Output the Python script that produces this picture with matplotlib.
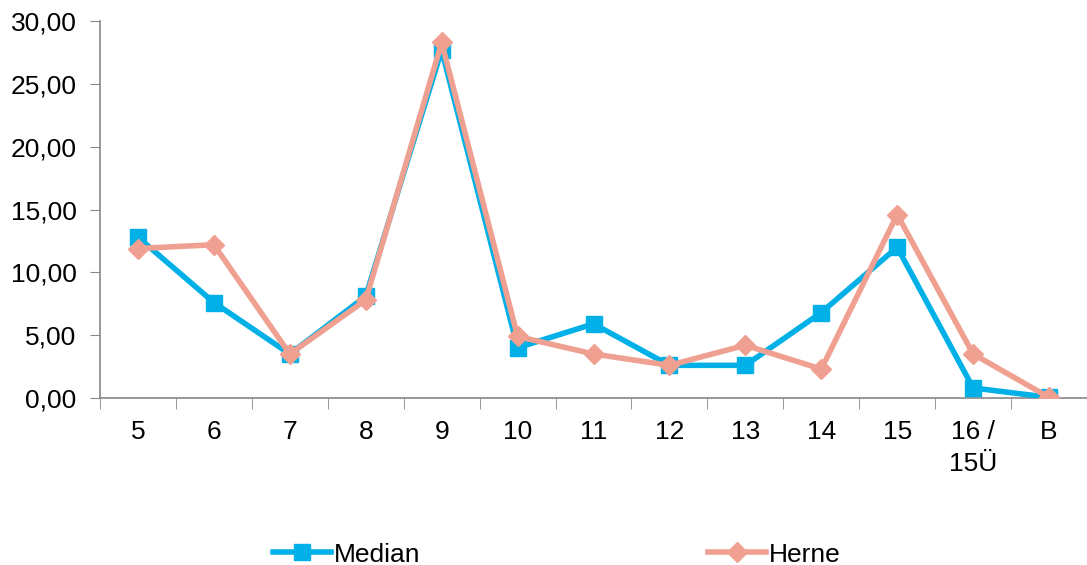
import numpy as np
import matplotlib
matplotlib.use("Agg")
from matplotlib import pyplot as plt
from matplotlib.ticker import FuncFormatter

categories = ["5", "6", "7", "8", "9", "10", "11", "12", "13", "14", "15", "16 /\n15Ü", "B"]
median = [12.8, 7.6, 3.5, 8.1, 27.7, 4.0, 5.9, 2.6, 2.6, 6.8, 12.0, 0.8, 0.05]
herne = [11.9, 12.2, 3.5, 7.8, 28.3, 4.9, 3.5, 2.6, 4.2, 2.3, 14.6, 3.5, 0.05]

plt.rcParams['font.family'] = ['Liberation Sans', 'DejaVu Sans']
plt.rcParams['font.size'] = 19

fig = plt.figure(figsize=(10.87, 5.65), dpi=100)
ax = fig.add_axes([0.092, 0.2956, 0.908, 0.667])

x = np.arange(len(categories))
ax.plot(x, median, color="#00B0E6", lw=4, marker="s", ms=12, label="Median", zorder=3)
ax.plot(x, herne, color="#F0A090", lw=4, marker="D", ms=10, label="Herne", zorder=4)

ax.set_xlim(-0.5, len(categories) - 0.5)
ax.set_ylim(0, 30)
ax.set_yticks(np.arange(0, 31, 5))
ax.yaxis.set_major_formatter(FuncFormatter(lambda v, p: f"{v:.2f}".replace(".", ",")))

# labels at centres, tick marks at boundaries
ax.set_xticks(x)
ax.set_xticklabels(categories, linespacing=1.4)
ax.set_xticks(np.arange(-0.5, len(categories), 1), minor=True)
ax.tick_params(axis="x", which="major", length=0, pad=16)
ax.tick_params(axis="x", which="minor", length=8, color="#888888", direction="out")
ax.tick_params(axis="y", length=7, color="#888888", pad=10)

for s in ["top", "right"]:
    ax.spines[s].set_visible(False)
for s in ["left", "bottom"]:
    ax.spines[s].set_color("#888888")
    ax.spines[s].set_linewidth(1.2)

fig.legend(loc="lower center", bbox_to_anchor=(0.512, -0.045), ncol=2, frameon=False,
           columnspacing=10.9, handlelength=2.2, handletextpad=0.1)

fig.savefig("out.png", dpi=100)
